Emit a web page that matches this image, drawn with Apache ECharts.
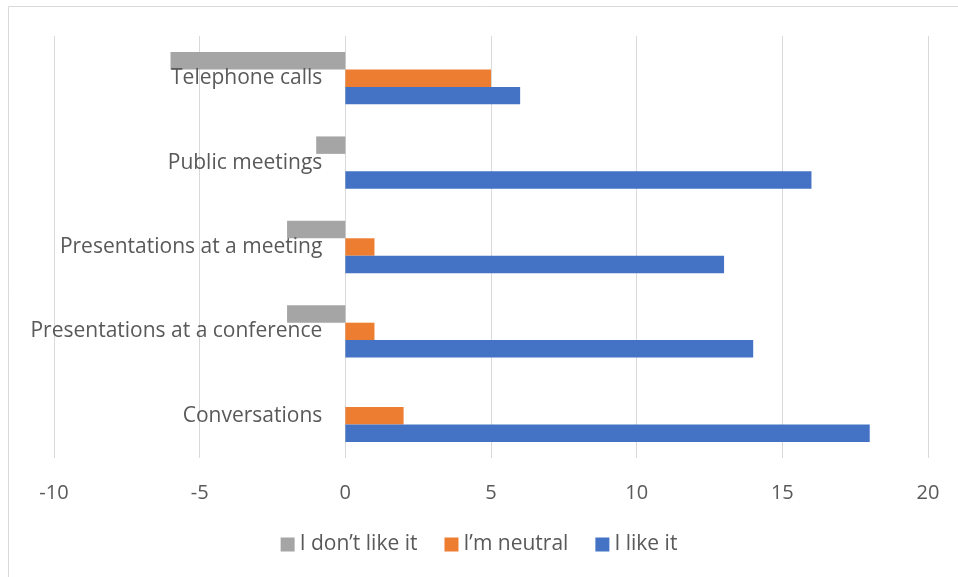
<!DOCTYPE html>
<html>
<head>
<meta charset="utf-8">
<script src="https://cdn.jsdelivr.net/npm/echarts@6/dist/echarts.min.js"></script>
<style>
  html, body { margin: 0; padding: 0; background: #ffffff; }
  #chart { width: 958px; height: 577px; }
</style>
</head>
<body>
<div id="chart"></div>
<script>
// Survey categories, bottom to top on the category axis
const categories = [
  'Conversations',
  'Presentations at a conference',
  'Presentations at a meeting',
  'Public meetings',
  'Telephone calls'
];
// Responses per category (dislikes are drawn as negative counts)
const likeIt = [18, 14, 13, 16, 6];
const neutral = [2, 1, 1, 0, 5];
const dislikeIt = [0, -2, -2, -1, -6];
const xTicks = [-10, 20, 5];

const textColor = '#595959';
const fontFamily = '"Open Sans", Lato, sans-serif';

const chart = echarts.init(document.getElementById('chart'));
chart.setOption({
  backgroundColor: '#ffffff',
  animation: false,
  graphic: [{
    type: 'rect',
    shape: { x: 8.5, y: 6.5, width: 960, height: 580 },
    style: { fill: 'none', stroke: '#d9d9d9', lineWidth: 1 },
    silent: true
  }],
  grid: { left: 54, right: 30, top: 36, bottom: 119, outerBoundsMode: 'none', containLabel: false },
  legend: {
    data: ['I don’t like it', 'I’m neutral', 'I like it'],
    bottom: 17,
    left: 'center',
    itemWidth: 14,
    itemHeight: 14,
    itemGap: 27,
    icon: 'rect',
    textStyle: { color: textColor, fontSize: 21, fontFamily: fontFamily }
  },
  xAxis: {
    type: 'value',
    min: xTicks[0],
    max: xTicks[1],
    interval: xTicks[2],
    axisLine: { show: false },
    axisTick: { show: false },
    splitLine: { show: true, lineStyle: { color: '#d9d9d9', width: 1 } },
    axisLabel: { color: textColor, fontSize: 20, fontFamily: fontFamily, margin: 25 }
  },
  yAxis: {
    type: 'category',
    data: categories,
    z: 10,
    axisLine: { show: false },
    axisTick: { show: false },
    axisLabel: {
      color: textColor, fontSize: 21, fontFamily: fontFamily, margin: 23,
      padding: [4, 0, 0, 0]
    }
  },
  series: [
    {
      name: 'I don’t like it', type: 'bar', data: dislikeIt,
      itemStyle: { color: '#A5A5A5' },
      barGap: '0%', barCategoryGap: '38%'
    },
    {
      name: 'I’m neutral', type: 'bar', data: neutral,
      itemStyle: { color: '#ED7D31' },
      barGap: '0%', barCategoryGap: '38%'
    },
    {
      name: 'I like it', type: 'bar', data: likeIt,
      itemStyle: { color: '#4472C4' },
      barGap: '0%', barCategoryGap: '38%'
    }
  ]
});

// Shift the category axis (and its labels) onto the zero line of the value axis
const zeroX = chart.convertToPixel({ xAxisIndex: 0 }, 0);
const leftX = chart.convertToPixel({ xAxisIndex: 0 }, xTicks[0]);
chart.setOption({ yAxis: { offset: -(zeroX - leftX) } });
</script>
</body>
</html>
